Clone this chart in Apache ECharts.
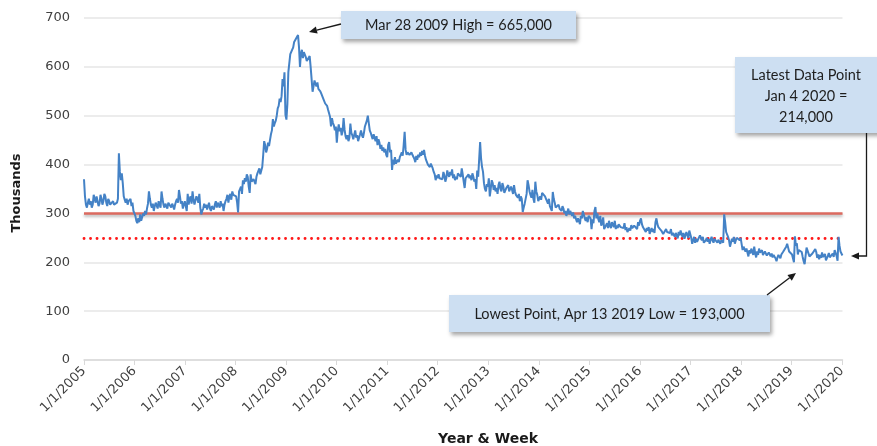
<!DOCTYPE html>
<html>
<head>
<meta charset="utf-8">
<script src="https://cdn.jsdelivr.net/npm/echarts@6/dist/echarts.min.js"></script>
<style>
html,body{margin:0;padding:0;background:#fff;}
#chart{width:877px;height:446px;}
</style>
</head>
<body>
<div id="chart"></div>
<script>
// Weekly initial claims (thousands), week ending Saturday, first week of each year
const claims2005 = [370,335,318,312,322,330,318,325,312,318,338,330,322,335,325,315,320,338,330,318,325,340,335,322,315,330,325,318,315,322,325,318,320,315,322,330,423,385,368,382,362,335,328,322,330,318,325,322,330,315,322,305,300];
const claims2006 = [295,285,280,290,282,298,285,292,300,295,305,298,310,320,345,330,318,312,320,305,315,322,318,310,325,318,312,345,330,318,312,320,315,310,322,318,325,312,320,315,308,318,325,330,322,348,335,320,325,310,318,325];
const claims2007 = [325,305,340,318,330,335,320,345,328,318,322,335,330,322,340,312,298,305,310,320,312,318,308,315,322,310,305,315,312,308,318,325,312,322,318,312,325,315,320,305,318,325,330,338,322,335,340,328,345,338,342,335];
const claims2008 = [335,322,302,345,350,355,340,368,360,372,365,380,375,355,342,380,365,362,370,372,360,375,382,385,392,380,378,395,420,448,440,425,432,445,438,450,462,470,493,478,485,490,500,515,520,535,528,540,575,560,589,502];
const claims2009 = [492,524,589,588,626,623,627,640,651,654,658,655,665,640,600,628,635,618,630,625,620,612,608,615,622,600,575,549,560,572,565,560,568,555,552,550,545,540,535,532,525,528,520,512,505,498,478,495,485,480,470,478];
const claims2010 = [445,470,482,468,475,460,468,495,472,458,452,460,448,455,484,465,460,452,448,470,455,460,448,455,462,470,460,455,465,478,482,490,500,485,470,465,458,452,462,455,448,458,440,452,445,432,440,428,435,425,432,420];
const claims2011 = [415,440,446,425,430,389,410,400,415,402,398,410,405,415,420,425,418,440,467,430,420,425,428,420,418,425,420,418,412,405,418,410,420,415,425,418,428,420,430,418,410,405,400,398,395,402,398,392,385,380,368,378,372];
const claims2012 = [380,372,375,368,370,385,378,365,372,388,380,375,385,378,390,372,380,368,375,370,382,386,378,375,392,380,365,352,372,368,375,380,372,378,368,382,375,365,370,350,388,375,378,446,412,395,385,362,350,345,360,355];
const claims2013 = [372,335,350,368,362,348,358,345,352,340,358,365,350,345,362,355,342,340,352,348,358,345,350,355,348,340,358,345,338,335,332,340,325,335,330,303,312,320,318,340,368,358,345,338,332,348,330,322,365,345,338,325];
const claims2014 = [325,335,328,342,338,340,335,330,325,320,330,315,318,305,344,330,322,312,308,315,318,310,312,305,315,310,300,305,295,302,310,298,305,300,295,302,290,295,288,282,290,285,278,295,290,305,298,290,285,292,282,295];
const claims2015 = [295,290,268,288,280,305,313,290,300,288,282,295,275,280,292,268,265,272,280,270,285,275,270,282,278,272,285,268,275,270,278,282,272,268,275,270,280,266,272,262,258,270,265,276,270,268,275,278,272,268,282,275];
const claims2016 = [285,290,278,272,275,268,262,270,265,272,258,265,270,262,268,260,282,290,278,272,275,270,265,268,258,262,255,268,262,265,258,260,268,255,260,258,252,260,255,249,262,255,265,258,252,260,248,255,262,258,250,265,262];
const claims2017 = [250,238,245,252,240,248,242,246,240,255,250,245,252,240,238,245,250,242,248,238,246,252,245,240,248,244,250,240,246,242,238,245,242,240,298,282,262,258,252,245,232,240,248,242,252,238,245,250,246,252,245,250];
const claims2018 = [248,225,232,228,222,228,220,212,225,218,228,222,215,232,218,210,222,215,228,220,218,225,215,212,222,218,214,210,220,216,212,218,210,215,212,208,202,210,215,212,208,216,214,222,218,226,232,238,230,222,218,226];
const claims2019 = [216,213,200,253,234,239,216,225,223,229,221,211,202,196,193,230,230,228,212,211,215,218,222,216,227,221,209,216,206,215,209,220,211,215,217,204,208,213,219,210,214,213,218,211,225,227,213,203,252,234,222,220];
const claims2020 = [214];

const firstWeek = [2005, 0, 1];         // Jan 1 2005 (Saturday)
const yearTicks = [2005,2006,2007,2008,2009,2010,2011,2012,2013,2014,2015,2016,2017,2018,2019,2020];
const refSolid = 300;
const refDotted = 250;
const yTicks = [0,100,200,300,400,500,600,700];

const allValues = [].concat(claims2005,claims2006,claims2007,claims2008,claims2009,claims2010,claims2011,claims2012,claims2013,claims2014,claims2015,claims2016,claims2017,claims2018,claims2019,claims2020);
const DAY = 86400000;
const t0 = Date.UTC(firstWeek[0], firstWeek[1], firstWeek[2]);
function fracYear(ms){
  const d = new Date(ms); const y = d.getUTCFullYear();
  const s = Date.UTC(y,0,1), e = Date.UTC(y+1,0,1);
  return y + (ms - s)/(e - s);
}
const seriesData = allValues.map((v,i)=>[fracYear(t0 + i*7*DAY), v]);

const chart = echarts.init(document.getElementById('chart'), null, {renderer:'canvas'});
const axisFont = 'DejaVu Sans';
const noteFont = 'Lato';

function arrow(x1,y1,x2,y2){
  const a = Math.atan2(y2-y1, x2-x1), L = 8, W = 3.6;
  const bx = x2 - L*Math.cos(a), by = y2 - L*Math.sin(a);
  const px = -Math.sin(a)*W, py = Math.cos(a)*W;
  return [
    {type:'line', shape:{x1:x1,y1:y1,x2:bx,y2:by}, style:{stroke:'#1a1a1a', lineWidth:1.3}, z:20},
    {type:'polygon', shape:{points:[[x2,y2],[bx+px,by+py],[bx-px,by-py]]}, style:{fill:'#1a1a1a'}, z:20}
  ];
}
function box(x,y,w,h){
  return {type:'rect', shape:{x:x,y:y,width:w,height:h}, style:{fill:'#cddff2', shadowColor:'rgba(0,0,0,0.35)', shadowBlur:4, shadowOffsetX:2, shadowOffsetY:3}, z:18};
}
function txt(x,y,s,align){
  return {type:'text', x:x, y:y, style:{text:s, font:'14.5px '+noteFont, fill:'#1e1e1e', align:align||'center', verticalAlign:'middle'}, z:21};
}

const graphics = [
  box(341,11,235,28), txt(458.5,25.5,'Mar 28 2009 High = 665,000'),
  ...arrow(341,24,309,32),
  box(735,57,150,76),
  txt(806,75,'Latest Data Point'), txt(806,96,'Jan 4 2020 ='), txt(806,117,'214,000'),
  {type:'polyline', shape:{points:[[866.5,133],[866.5,256],[861,256]]}, style:{stroke:'#1a1a1a', lineWidth:1.3, fill:null}, z:20},
  ...arrow(861,256,851,256),
  box(449,295,321,37), txt(609.5,314,'Lowest Point, Apr 13 2019 Low = 193,000'),
  ...arrow(767,295,796,273),
  {type:'text', x:17, y:193, rotation:Math.PI/2, style:{text:'Thousands', font:'bold 13px '+axisFont, fill:'#1a1a1a', align:'center', verticalAlign:'middle'}},
  {type:'text', x:488, y:439, style:{text:'Year & Week', font:'bold 14px '+axisFont, fill:'#1a1a1a', align:'center', verticalAlign:'middle'}}
];

chart.setOption({
  animation:false,
  backgroundColor:'#ffffff',
  grid:{left:84, right:34.5, top:18, bottom:86, containLabel:false},
  xAxis:{
    type:'value', min:yearTicks[0], max:2020.01, interval:1,
    axisLine:{show:true, lineStyle:{color:'#d9d9d9', width:1.5}},
    axisTick:{show:true, length:5, lineStyle:{color:'#d9d9d9', width:1}},
    splitLine:{show:false},
    axisLabel:{rotate:45, margin:9, fontFamily:axisFont, fontSize:13, color:'#404040',
      formatter:function(v){ return yearTicks.indexOf(v) >= 0 ? '1/1/'+v : ''; }}
  },
  yAxis:{
    type:'value', min:yTicks[0], max:yTicks[yTicks.length-1], interval:100,
    axisLine:{show:false}, axisTick:{show:false},
    splitLine:{show:true, lineStyle:{color:'#e6e6e6', width:1.5}},
    axisLabel:{margin:14, fontFamily:axisFont, fontSize:13, color:'#404040'}
  },
  series:[
    {type:'line', data:[], z:2, silent:true,
      markLine:{symbol:'none', silent:true, label:{show:false},
        data:[{yAxis:refSolid, lineStyle:{color:'#dc6a5f', width:2.6, type:'solid', shadowColor:'rgba(0,0,0,0.3)', shadowBlur:3, shadowOffsetY:2}}]}},
    {type:'line', data:seriesData, showSymbol:false, z:5, silent:true,
      lineStyle:{color:'#4482c6', width:2}, itemStyle:{color:'#4482c6'}},
    {type:'line', data:[], z:6, silent:true,
      markLine:{symbol:'none', silent:true, label:{show:false},
        data:[{yAxis:refDotted, lineStyle:{color:'#ff1a1a', width:2.8, type:[0.1,6.4], cap:'round'}}]}}
  ],
  graphic:graphics
});
</script>
</body>
</html>
